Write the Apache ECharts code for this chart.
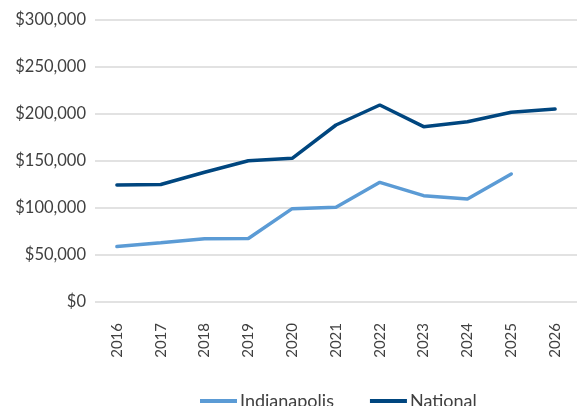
<!DOCTYPE html>
<html>
<head>
<meta charset="utf-8">
<script src="https://cdn.jsdelivr.net/npm/echarts@6/dist/echarts.min.js"></script>
<style>
  html, body { margin: 0; padding: 0; background: #fff; }
  #chart { width: 577px; height: 406px; }
</style>
</head>
<body>
<div id="chart"></div>
<script>
// data
const years = ['2016', '2017', '2018', '2019', '2020', '2021', '2022', '2023', '2024', '2025', '2026']
const indianapolis = [59000, 63000, 67300, 67500, 99300, 100700, 127300, 113100, 109600, 136200, null]
const national = [124500, 125000, 138000, 150300, 152800, 188300, 209600, 186500, 191800, 201800, 205300]

const fontFamily = 'Lato, "Noto Sans", sans-serif'
const textColor = '#404040'

const myChart = echarts.init(document.getElementById('chart'))

myChart.setOption({
    animation: false,
    grid: {
        left: 95,
        right: -3,
        top: 20,
        bottom: 104
    },
    legend: {
        left: 200,
        top: 392,
        padding: 0,
        itemWidth: 37,
        itemHeight: 4,
        itemGap: 36,
        icon: 'rect',
        textStyle: { fontFamily, fontSize: 18, color: textColor, padding: [0, 0, 0, -2] },
        data: ['Indianapolis', 'National']
    },
    xAxis: {
        type: 'category',
        data: years,
        boundaryGap: true,
        axisLine: { show: false },
        axisTick: { show: false },
        axisLabel: {
            rotate: 90,
            margin: 21,
            fontFamily,
            fontSize: 15,
            color: textColor
        }
    },
    yAxis: {
        type: 'value',
        min: 0,
        max: 300000,
        interval: 50000,
        axisLine: { show: false },
        axisTick: { show: false },
        axisLabel: {
            margin: 9,
            fontFamily,
            fontSize: 16.5,
            color: textColor,
            formatter: v => '$' + v.toLocaleString('en-US')
        },
        splitLine: {
            lineStyle: { color: '#d9d9d9', width: 1.5 }
        }
    },
    series: [
        {
            name: 'Indianapolis',
            type: 'line',
            data: indianapolis,
            symbol: 'none',
            color: '#5b9bd5',
            lineStyle: { width: 3.5, color: '#5b9bd5', cap: 'round' }
        },
        {
            name: 'National',
            type: 'line',
            data: national,
            symbol: 'none',
            color: '#00467f',
            lineStyle: { width: 3.5, color: '#00467f', cap: 'round' }
        }
    ]
})
</script>
</body>
</html>
